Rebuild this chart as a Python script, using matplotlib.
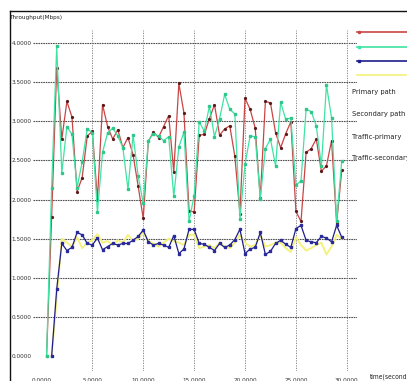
import matplotlib
matplotlib.use("Agg")
import matplotlib.pyplot as plt
from matplotlib.lines import Line2D
from matplotlib import font_manager
from matplotlib.font_manager import FontProperties

# sample times (s)
path_time = [0.5, 1.0, 1.5, 2.0, 2.5, 3.0, 3.5, 4.0, 4.5, 5.0,
             5.5, 6.0, 6.5, 7.0, 7.5, 8.0, 8.5, 9.0, 9.5, 10.0,
             10.5, 11.0, 11.5, 12.0, 12.5, 13.0, 13.5, 14.0, 14.5, 15.0,
             15.5, 16.0, 16.5, 17.0, 17.5, 18.0, 18.5, 19.0, 19.5, 20.0,
             20.5, 21.0, 21.5, 22.0, 22.5, 23.0, 23.5, 24.0, 24.5, 25.0,
             25.5, 26.0, 26.5, 27.0, 27.5, 28.0, 28.5, 29.0, 29.5]
traffic_time = path_time[1:]

primary_path = [0.00, 1.78, 3.68, 2.77, 3.25, 3.05, 2.10, 2.28, 2.81, 2.87,
                2.00, 3.21, 2.93, 2.77, 2.89, 2.66, 2.79, 2.57, 2.17, 1.76,
                2.74, 2.86, 2.79, 2.93, 3.07, 2.35, 3.48, 3.10, 1.86, 1.84,
                2.82, 2.83, 3.03, 3.21, 2.82, 2.90, 2.94, 2.55, 1.82, 3.29,
                3.15, 2.91, 2.02, 3.25, 3.23, 2.85, 2.66, 2.84, 2.99, 1.85,
                1.72, 2.60, 2.65, 2.77, 2.36, 2.43, 2.75, 1.70, 2.37]

secondary_path = [0.00, 2.15, 3.95, 2.34, 2.93, 2.83, 2.15, 2.48, 2.90, 2.85,
                  1.84, 2.60, 2.85, 2.91, 2.81, 2.66, 2.13, 2.82, 2.30, 1.95,
                  2.75, 2.84, 2.81, 2.75, 2.80, 2.04, 2.67, 2.86, 1.72, 2.05,
                  2.99, 2.87, 3.19, 2.80, 3.03, 3.34, 3.15, 3.09, 1.75, 2.45,
                  2.81, 2.80, 2.01, 2.65, 2.77, 2.43, 3.24, 3.02, 3.04, 2.18,
                  2.24, 3.15, 3.12, 2.94, 2.43, 3.46, 3.04, 1.73, 2.49]

traffic_primary = [0.00, 0.86, 1.44, 1.35, 1.39, 1.58, 1.55, 1.44, 1.42,
                   1.51, 1.36, 1.40, 1.44, 1.42, 1.44, 1.44, 1.48, 1.53, 1.61,
                   1.46, 1.42, 1.44, 1.42, 1.39, 1.54, 1.31, 1.37, 1.62, 1.62,
                   1.44, 1.43, 1.39, 1.35, 1.44, 1.39, 1.42, 1.49, 1.62, 1.31,
                   1.37, 1.39, 1.58, 1.30, 1.34, 1.44, 1.48, 1.43, 1.39, 1.63,
                   1.67, 1.48, 1.46, 1.45, 1.53, 1.51, 1.46, 1.67, 1.52]

traffic_secondary = [0.00, 0.75, 1.50, 1.45, 1.40, 1.52, 1.38, 1.45, 1.48,
                     1.56, 1.45, 1.47, 1.42, 1.48, 1.45, 1.55, 1.47, 1.50, 1.58,
                     1.47, 1.44, 1.40, 1.45, 1.50, 1.47, 1.45, 1.42, 1.55, 1.55,
                     1.38, 1.40, 1.42, 1.38, 1.45, 1.40, 1.38, 1.45, 1.55, 1.45,
                     1.40, 1.42, 1.55, 1.40, 1.42, 1.45, 1.45, 1.38, 1.33, 1.52,
                     1.42, 1.35, 1.38, 1.42, 1.45, 1.30, 1.40, 1.55, 1.50]

series_names = ["Primary path", "Secondary path", "Traffic-primary", "Traffic-secondary"]
series_colors = ["#c94545", "#3fe3a3", "#1e1e8c", "#f4f27c"]

y_ticks = [0.0, 0.5, 1.0, 1.5, 2.0, 2.5, 3.0, 3.5, 4.0]
x_ticks = [0, 5, 10, 15, 20, 25, 30]

W, H = 407, 381

# look for a narrow face, the original uses a condensed font
narrow = None
for f in font_manager.fontManager.ttflist:
    if ("Narrow" in f.name or "Condensed" in f.name or f.stretch in ("condensed", "semi-condensed")) \
            and f.style == "normal" and f.weight in (400, "normal", "regular"):
        narrow = f.fname
        break
fp = FontProperties(fname=narrow) if narrow else FontProperties(family="Liberation Sans")

fig = plt.figure(figsize=(W / 100, H / 100), dpi=100)
fig.patch.set_facecolor("white")


def px(x, y):
    # pixel position (from top-left) -> figure fraction
    return x / W, 1 - y / H


def fprop(size):
    p = fp.copy()
    p.set_size(size)
    return p


# plot area: x 33..357 px, y 30..371 px
ax = fig.add_axes([33 / W, 1 - 371 / H, (357 - 33) / W, (371 - 30) / H])
ax.set_xlim(-0.83, 31.0)
ax.set_ylim(-0.185, 4.16)
for s in ax.spines.values():
    s.set_visible(False)

# grid
for v in y_ticks[1:]:
    ax.axhline(v, color="#505050", lw=0.8, ls=(0, (1.5, 0.7)), zorder=1)
for t in x_ticks[1:]:
    ax.axvline(t, color="#777777", lw=0.6, ls=(0, (1.5, 1.5)), zorder=1)

ax.set_yticks(y_ticks)
ax.set_yticklabels(["%.4f" % v for v in y_ticks])
ax.set_xticks(x_ticks)
ax.set_xticklabels(["%.4f" % t for t in x_ticks])
ax.tick_params(length=0, colors="#333333")
ax.tick_params(axis="y", pad=1)
ax.tick_params(axis="x", pad=5)
for lbl in ax.get_xticklabels() + ax.get_yticklabels():
    lbl.set_fontproperties(fprop(4.6))

ax.plot(traffic_time, traffic_secondary, color=series_colors[3], lw=1.4, zorder=2)
ax.plot(path_time, primary_path, color=series_colors[0], lw=0.9,
        marker="o", ms=1.3, mfc="#5a1a1a", mec="#5a1a1a", zorder=3)
ax.plot(path_time, secondary_path, color=series_colors[1], lw=0.9,
        marker="s", ms=1.6, mfc="#2fc88a", mec="#2fc88a", zorder=3)
ax.plot(traffic_time, traffic_primary, color=series_colors[2], lw=0.9,
        marker="s", ms=2.0, mfc="#2a2a9a", mec="#2a2a9a", zorder=4)

# window frame
fig.add_artist(Line2D([px(10, 11)[0], 1.0], [px(10, 11)[1]] * 2,
                      transform=fig.transFigure, color="#111111", lw=1.0))
fig.add_artist(Line2D([px(10, 11)[0]] * 2, [px(10, 11)[1], 0.0],
                      transform=fig.transFigure, color="#111111", lw=1.0))

fig.text(*px(10, 17), "Throughput(Mbps)", fontproperties=fprop(4.6), color="#222222",
         va="center", ha="left")
fig.text(*px(370, 377), "time(seconds)", fontproperties=fprop(4.8), color="#222222",
         va="center", ha="left")

# legend: samples then labels
legend_y = [32, 47, 61, 75]
legend_marks = [("o", 1.5), ("s", 2.0), ("s", 2.0), ("", 0)]
for y, c, (m, ms) in zip(legend_y, series_colors, legend_marks):
    x0, y0 = px(357, y)
    fig.add_artist(Line2D([x0, 1.0], [y0, y0], transform=fig.transFigure, color=c, lw=1.2))
    if m:
        fig.add_artist(Line2D([x0 + 2 / W], [y0], transform=fig.transFigure, color=c,
                              marker=m, ms=ms, lw=0))

label_y = [92, 114, 137, 158]
for y, name in zip(label_y, series_names):
    fig.text(*px(352, y), name, fontproperties=fprop(5.4), color="#222222",
             va="center", ha="left")

fig.savefig("out.png", dpi=100)
